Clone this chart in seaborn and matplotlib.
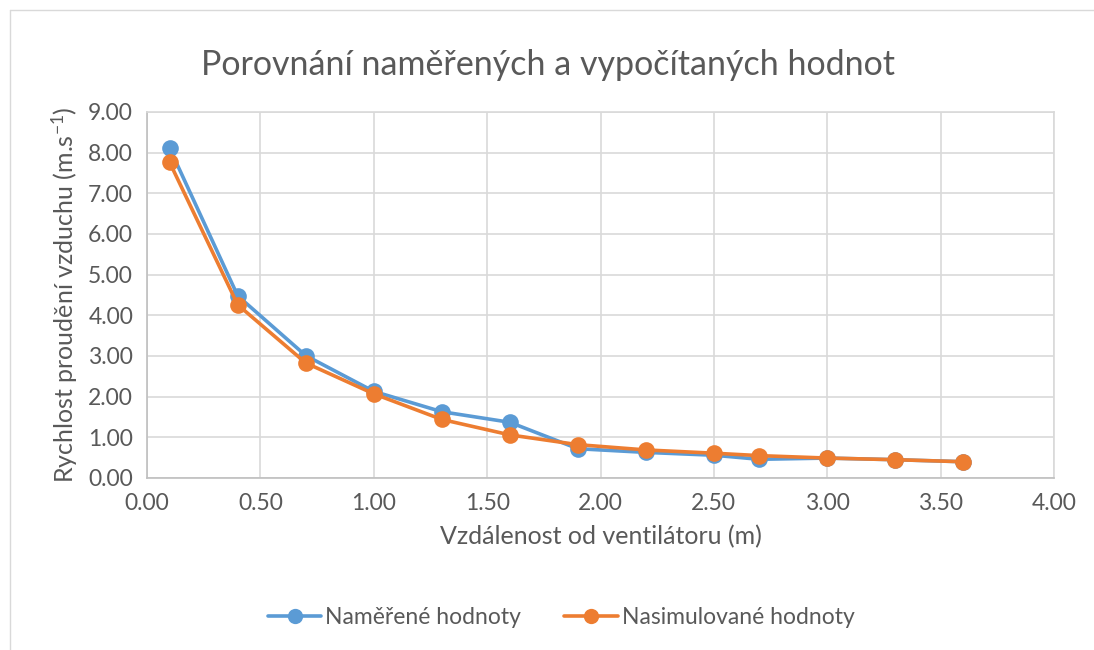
import pandas as pd
import matplotlib.pyplot as plt
import seaborn as sns
from matplotlib.lines import Line2D

# Data
vzdalenost = [0.1, 0.4, 0.7, 1.0, 1.3, 1.6, 1.9, 2.2, 2.5, 2.7, 3.0, 3.3, 3.6]
namerene = [8.11, 4.48, 3.01, 2.13, 1.63, 1.37, 0.72, 0.63, 0.56, 0.46, 0.49, 0.45, 0.40]
nasimulovane = [7.76, 4.26, 2.83, 2.07, 1.44, 1.06, 0.82, 0.69, 0.61, 0.55, 0.49, 0.45, 0.40]

serie = ["Naměřené hodnoty", "Nasimulované hodnoty"]
barvy = ["#5B9BD5", "#ED7D31"]

df = pd.DataFrame({
    "x": vzdalenost * 2,
    "y": namerene + nasimulovane,
    "serie": [serie[0]] * len(vzdalenost) + [serie[1]] * len(vzdalenost),
})

sns.set_style("white")
plt.rcParams["font.family"] = ["Lato", "DejaVu Sans"]
plt.rcParams["mathtext.fontset"] = "custom"
plt.rcParams["mathtext.rm"] = "Lato"
plt.rcParams["mathtext.it"] = "Lato"

seda = "#595959"
mrizka = "#d9d9d9"

fig = plt.figure(figsize=(10.94, 6.5), dpi=100)
ax = fig.add_axes([147 / 1094, 1 - 478 / 650, (1054 - 147) / 1094, (478 - 112) / 650])

sns.lineplot(data=df, x="x", y="y", hue="serie", palette=barvy, marker="o",
             markersize=12, markeredgewidth=0, linewidth=2.6, legend=False, ax=ax)

ax.set_xlim(0, 4)
ax.set_ylim(0, 9)
ax.set_xticks([i * 0.5 for i in range(9)])
ax.set_yticks(range(10))
ax.set_xticklabels([f"{i * 0.5:.2f}" for i in range(9)])
ax.set_yticklabels([f"{i:.2f}" for i in range(10)])
ax.tick_params(colors=seda, labelsize=16.5, length=0)
ax.tick_params(axis="y", pad=10)
ax.tick_params(axis="x", pad=11)
ax.grid(True, color=mrizka, linewidth=1.2)
for s in ax.spines.values():
    s.set_color(mrizka)
    s.set_linewidth(1.2)
ax.spines["bottom"].set_color("#bfbfbf")
ax.spines["left"].set_color("#bfbfbf")

ax.set_xlabel("Vzdálenost od ventilátoru (m)", fontsize=18, color=seda, labelpad=8)
ax.set_ylabel("Rychlost proudění vzduchu (m.s$^{-1}$)", fontsize=18, color=seda, labelpad=6)
fig.text(548 / 1094, 1 - 65 / 650, "Porovnání naměřených a vypočítaných hodnot",
         fontsize=24.5, color=seda, ha="center", va="center")

handles = [Line2D([], [], color=c, marker="o", markersize=11, markeredgewidth=0, linewidth=2.6)
           for c in barvy]
fig.legend(handles, serie, loc="center", bbox_to_anchor=(561 / 1094, 1 - 618 / 650), ncol=2,
           frameon=False, fontsize=16.5, labelcolor=seda, handlelength=2.35, columnspacing=1.9,
           handletextpad=0.15)

# chart-area frame
fig.add_artist(Line2D([10 / 1094, 10 / 1094], [0, 1 - 10 / 650], color=mrizka, linewidth=1,
                      transform=fig.transFigure))
fig.add_artist(Line2D([10 / 1094, 1], [1 - 10 / 650, 1 - 10 / 650], color=mrizka, linewidth=1,
                      transform=fig.transFigure))

fig.savefig("out.png", dpi=100)
